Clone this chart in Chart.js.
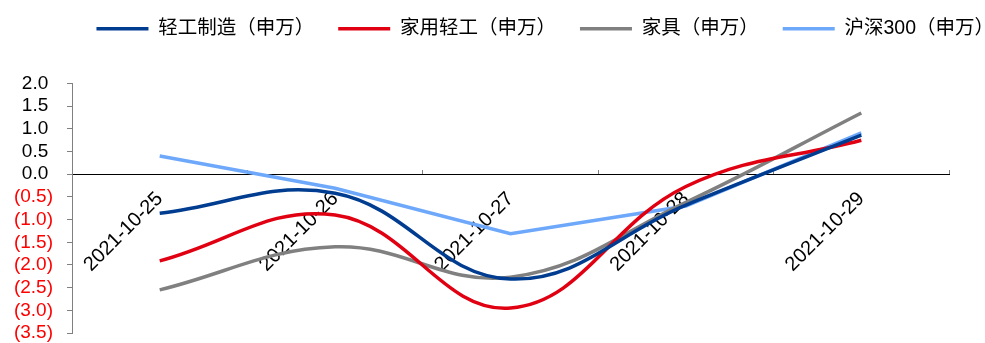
<!DOCTYPE html>
<html>
<head>
<meta charset="utf-8">
<script src="https://cdn.jsdelivr.net/npm/chart.js@4"></script>
<style>
  html, body { margin: 0; padding: 0; background: #fff; }
  #wrap { width: 985px; height: 343px; }
</style>
</head>
<body>
<div id="wrap"><canvas id="c" width="985" height="343"></canvas></div>
<script>
'use strict'

var dates = ['2021-10-25', '2021-10-26', '2021-10-27', '2021-10-28', '2021-10-29'];
var lightIndustry = [-0.86, -0.42, -2.31, -0.68, 0.86];
var homeLight = [-1.91, -0.90, -2.95, -0.27, 0.75];
var furniture = [-2.55, -1.60, -2.27, -0.62, 1.35];
var hs300 = [0.40, -0.31, -1.31, -0.70, 0.91];

var yMin = -3.5, yMax = 2.0, yStep = 0.5;

// accounting style: negatives in brackets, positives keep room for the bracket
function fmt(v) {
  var s = Math.abs(v).toFixed(1);
  return v < -1e-9 ? '(' + s + ')' : s + '\u2005';
}

// empty axes used only to reserve space around the plot
function spacer(pos, size) {
  return {
    type: 'linear',
    position: pos,
    display: true,
    grid: { display: false },
    border: { display: false },
    ticks: { display: false },
    afterFit: function (scale) {
      if (pos === 'top') scale.height = size; else scale.width = size;
    }
  };
}

var ctx = document.getElementById('c');
var mychart = new Chart(ctx, {
  type: 'line',
  data: {
    labels: dates,
    datasets: [{
      label: '轻工制造（申万）',
      data: lightIndustry,
      borderColor: 'rgb(0, 61, 145)',
      backgroundColor: 'rgb(0, 61, 145)',
      borderWidth: 3.5,
      tension: 0.4,
      pointRadius: 0
    }, {
      label: '家用轻工（申万）',
      data: homeLight,
      borderColor: 'rgb(224, 0, 18)',
      backgroundColor: 'rgb(224, 0, 18)',
      borderWidth: 3.5,
      tension: 0.4,
      pointRadius: 0
    }, {
      label: '家具（申万）',
      data: furniture,
      borderColor: 'rgb(128, 128, 128)',
      backgroundColor: 'rgb(128, 128, 128)',
      borderWidth: 3.5,
      tension: 0.4,
      pointRadius: 0
    }, {
      label: '沪深300（申万）',
      data: hs300,
      borderColor: 'rgb(110, 168, 250)',
      backgroundColor: 'rgb(110, 168, 250)',
      borderWidth: 3.5,
      tension: 0,
      pointRadius: 0
    }]
  },
  options: {
    responsive: false,
    animation: false,
    layout: { padding: { left: 0, right: -33, top: -5, bottom: 10 } },
    plugins: {
      tooltip: { enabled: false },
      legend: {
        position: 'top',
        align: 'end',
        labels: {
          usePointStyle: true,
          pointStyle: 'line',
          pointStyleWidth: 52,
          color: '#000',
          padding: 24,
          font: { family: 'Arial, "Liberation Sans", "Noto Sans CJK SC"', size: 19.5 }
        }
      }
    },
    scales: {
      x: {
        position: { y: 0 },
        offset: true,
        grid: {
          offset: true,
          drawOnChartArea: false,
          tickLength: -5,
          color: '#808080'
        },
        border: { color: '#000', width: 1 },
        ticks: {
          minRotation: 45,
          maxRotation: 45,
          padding: 18,
          color: '#000',
          font: { family: 'Arial, "Liberation Sans"', size: 20 }
        }
      },
      y: {
        min: yMin,
        max: yMax,
        afterFit: function (scale) {
          scale.width = 72;
          scale.paddingTop = 0;
          scale.paddingBottom = 0;
        },
        grid: {
          drawOnChartArea: false,
          tickLength: 5,
          color: '#808080'
        },
        border: { color: '#808080', width: 1 },
        ticks: {
          stepSize: yStep,
          autoSkip: false,
          padding: 14,
          font: { family: 'Arial, "Liberation Sans"', size: 19 },
          color: function (c) { return c.tick.value < -1e-9 ? '#ff0000' : '#000'; },
          callback: function (v) { return fmt(v); }
        }
      },
      gapTop: spacer('top', 35),
      gapRight: spacer('right', 69)
    }
  }
});
</script>
</body>
</html>
